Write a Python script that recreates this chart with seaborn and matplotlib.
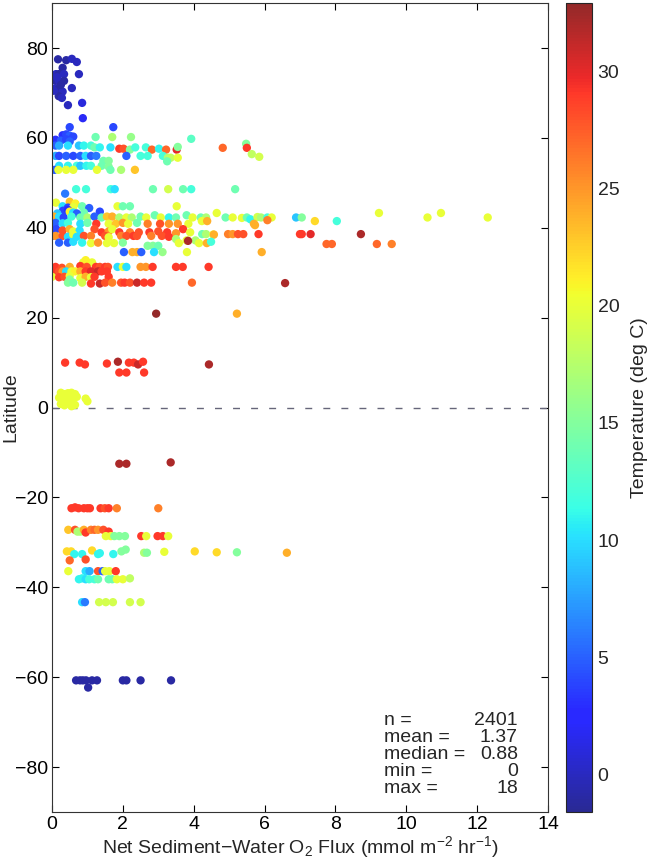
import numpy as np
import pandas as pd
import matplotlib
matplotlib.use("Agg")
import matplotlib.pyplot as plt
import seaborn as sns
from matplotlib.colors import Normalize, ListedColormap
from matplotlib.cm import ScalarMappable

# ---------------- data: (flux, latitude, temperature) ----------------
arctic = [(0.17,77.5,-1),(0.40,77.3,-1),(0.56,77.6,0),(0.70,76.9,0),(0.30,75.6,-1),(0.11,74.2,0),
          (0.19,74.2,-1),(0.34,74.2,0),(0.76,74.2,0),(0.10,72.7,-1),(0.20,72.7,0),(0.34,72.7,-1),
          (0.08,71.0,0),(0.19,70.9,-1),(0.30,70.3,0),(0.56,71.1,0),(0.19,69.3,-1),(0.28,68.9,0),
          (0.45,67.3,0),(0.85,67.8,1),(0.87,64.4,2),(0.14,73.5,0),(0.25,71.8,-1),(0.05,70.5,0)]

subarctic = [(0.50,62.4,4),(1.73,62.4,4),
             (0.30,60.6,3),(0.40,60.8,4),(0.50,60.5,5),(0.60,60.3,4),(1.23,60.2,14),(1.70,60.2,17),
             (2.23,60.2,16),(3.93,59.8,13),
             (0.10,59.6,3),(0.25,59.4,5),(0.40,59.7,4),(0.50,59.2,5),
             (0.10,58.3,5),(0.20,58.3,8),(0.45,58.3,10),(0.76,58.3,9),(0.90,58.3,11),(1.10,58.3,12),
             (1.20,57.9,14),(1.35,57.9,11),(1.65,57.9,10),(1.90,57.6,29),(2.02,57.6,28),(2.20,57.4,15),
             (2.35,57.9,12),(2.65,57.9,12),(2.82,57.4,27),(3.02,57.6,11),(3.22,57.4,27),(3.52,57.4,30),
             (3.55,58.0,15),(4.82,57.8,27),(5.48,58.7,15),(5.50,57.8,29),(5.64,56.4,18),(5.85,55.8,19),
             (0.10,56.0,8),(0.20,56.0,4),(0.40,56.0,5),(0.60,56.0,4),(0.80,56.0,5),(0.95,56.0,10),
             (1.10,56.0,5),(1.25,56.0,6),(2.10,56.0,5),(2.50,56.0,12),(2.70,56.0,12),(3.13,56.0,12),
             (3.27,55.6,17),(3.35,55.6,18),(3.55,55.6,20),(3.25,54.8,14),
             (1.45,54.9,14),(1.60,54.9,15),
             (0.20,53.8,10),(0.45,53.8,11),(0.70,53.8,12),(0.80,53.8,9),(0.97,53.8,11),(1.10,53.8,12),
             (1.40,53.8,14),(1.60,53.6,15),
             (0.07,52.9,5),(0.18,52.9,20),(0.40,52.9,20),(0.60,52.9,20),(1.27,52.9,20),(1.65,52.9,14),
             (1.95,52.9,17),(2.34,52.9,23),
             (0.68,48.6,12),(0.96,48.6,12),(1.66,48.6,12),(1.77,48.6,10),(2.85,48.6,14),(3.28,48.6,19),
             (3.70,48.6,14),(3.93,48.6,12),(5.17,48.6,14),(0.37,47.6,6)]

temperate = [(0.11,45.6,20),(0.50,45.8,23),(0.66,45.4,21),(0.30,44.8,10),(0.45,44.5,4),(0.60,44.6,20),
             (0.85,44.8,14),(1.05,44.4,5),(1.85,44.8,20),(2.00,44.8,14),(2.20,44.8,14),(3.52,44.8,20),
             (0.31,43.8,4),(0.45,44.0,3),(0.50,43.6,21),(0.60,43.4,10),(0.90,43.4,14),(1.35,43.6,4),
             (4.65,43.3,20),(9.23,43.3,20),(10.98,43.3,20),(0.15,43.2,9),(0.70,43.2,5),
             (0.05,42.5,24),(0.20,42.5,10),(0.33,42.3,4),(0.55,42.5,12),(0.80,42.3,14),(1.00,42.3,17),
             (1.20,42.5,5),(1.40,42.3,14),(1.55,42.5,23),(1.70,42.5,24),(1.90,42.3,17),(2.10,42.3,20),
             (2.25,42.3,17),(2.50,42.5,14),(2.66,42.3,20),(2.90,42.8,14),(3.07,42.3,20),(3.30,42.3,11),
             (3.50,42.3,14),(3.80,42.8,14),(3.97,42.3,20),(4.20,42.3,14),(4.35,42.3,17),(4.90,42.3,14),
             (5.10,42.3,20),(5.36,42.2,20),(5.50,42.3,14),(5.60,41.9,11),(5.80,42.4,19),(5.90,42.3,17),
             (6.08,42.3,12),(6.20,42.3,20),(6.89,42.3,9),(7.05,42.3,15),(10.6,42.3,20),(12.3,42.3,20),
             (0.10,41.1,5),(0.30,41.0,10),(0.45,41.1,12),(0.80,40.9,10),(1.00,41.1,14),(1.25,40.9,29),
             (1.60,40.9,20),(1.80,40.9,23),(2.00,41.1,25),(2.15,40.9,20),(2.40,41.1,14),(2.70,40.9,26),
             (3.05,40.9,28),(3.30,40.9,25),(3.55,40.9,25),(3.85,40.9,20),(4.23,41.5,20),(4.38,41.5,24),
             (5.73,40.6,24),(6.08,41.7,26),(7.42,41.5,22),(8.04,41.5,12),(5.70,40.9,24),
             (0.00,39.7,5),(0.12,39.7,4),(0.30,39.4,28),(0.50,39.7,24),(0.60,39.2,20),(0.78,39.4,10),
             (1.20,39.7,28),(1.40,39.0,29),(1.60,39.2,25),(1.70,39.7,20),(1.90,39.0,29),(2.20,39.0,26),
             (2.45,39.0,28),(2.75,39.0,29),(3.00,39.2,28),(3.25,39.0,29),(3.50,38.8,25),(3.70,39.7,29),
             (3.90,39.0,20),
             (0.00,38.2,5),(0.10,38.2,25),(0.30,38.2,28),(0.45,38.0,10),(0.60,38.5,20),(0.70,38.0,10),
             (0.90,38.2,28),(1.10,38.2,26),(1.50,38.2,28),(1.60,37.9,20),(1.95,38.2,26),(2.10,38.2,28),
             (2.30,38.2,29),(2.40,38.2,28),(2.80,38.2,26),(3.10,38.2,28),(3.30,38.0,29),(3.50,37.5,17),
             (3.80,37.2,20),(4.05,37.2,17),(4.24,38.6,14),(4.35,38.6,17),(4.55,38.5,20),(4.57,38.5,24),
             (4.97,38.6,26),(5.10,38.6,25),(5.25,38.6,28),(5.40,38.6,28),(5.83,38.6,29),(7.00,38.6,29),
             (7.05,38.6,29),(7.30,38.6,30),(8.72,38.6,32),
             (0.20,36.7,5),(0.45,36.7,5),(0.60,36.9,10),(0.85,36.7,11),(1.10,36.6,20),(1.30,36.7,25),
             (1.55,36.6,20),(1.75,36.6,20),(2.00,36.7,15),(3.84,37.1,32),(3.58,36.6,20),(4.15,36.6,20),
             (4.37,36.6,24),(4.49,36.9,12),(7.75,36.4,27),(7.90,36.4,27),(9.17,36.4,27),(9.59,36.4,26),
             (2.70,36.0,15),(2.85,36.0,15),(3.00,36.0,14),
             (2.03,34.6,5),(2.27,34.6,24),(2.40,34.6,24),(2.52,34.6,5),(2.88,34.6,10),(3.12,34.6,16),
             (3.81,34.6,20),(5.92,34.6,24)]

subtropical = [(0.88,32.3,20),(1.00,32.3,21),(1.13,32.3,20),(0.95,32.8,21),
               (0.10,31.3,29),(0.28,31.1,28),(0.50,31.3,24),(0.80,31.5,29),(0.98,31.3,28),(1.24,31.3,29),
               (1.35,31.3,28),(1.50,31.3,29),(1.58,31.3,28),(1.85,31.3,10),(2.00,31.3,20),(2.10,31.3,10),
               (2.50,31.3,25),(2.65,31.3,25),(2.84,31.3,29),(3.50,31.3,29),(3.69,31.3,29),(4.42,31.3,29),
               (0.05,30.3,29),(0.20,30.3,28),(0.30,30.3,25),(0.40,30.3,10),(0.55,30.3,20),(0.65,30.3,21),
               (0.80,30.3,24),(0.95,30.3,29),(1.10,30.3,30),(1.30,30.3,31),(1.40,30.3,29),(1.55,30.3,29),
               (0.00,29.1,20),(0.20,29.0,29),(0.35,29.1,28),(0.50,29.3,20),(0.50,28.5,15),(0.80,28.8,20),
               (0.95,29.1,24),(1.10,29.0,20),(1.20,29.1,29),(1.60,29.1,29),
               (0.45,27.8,15),(0.60,27.8,14),(0.85,27.8,19),(1.10,27.6,29),(1.35,27.6,31),(1.50,27.8,28),
               (1.70,27.8,26),(1.95,27.8,28),(2.05,27.8,29),(2.20,27.8,28),(2.40,27.8,31),(2.60,27.8,29),
               (2.80,27.8,29),(3.95,27.8,27),(6.58,27.7,32),
               (2.94,20.9,33),(5.22,20.9,24)]

tropical = [(0.37,10.0,29),(0.78,10.0,29),(0.93,9.6,29),(1.55,9.8,29),(1.86,10.2,32),(2.17,10.0,29),
            (2.31,10.0,29),(2.43,9.6,31),(2.57,10.2,29),(4.43,9.6,32),(1.90,7.8,29),(2.10,7.8,29),
            (2.60,7.8,29),
            (0.25,3.3,20),(0.35,3.0,20),(0.45,3.2,20),(0.55,3.3,20),(0.65,3.0,20),(0.20,2.2,20),
            (0.30,1.8,20),(0.40,2.5,20),(0.50,1.5,20),(0.60,2.0,20),(0.70,2.4,20),(0.25,0.8,20),
            (0.35,0.5,20),(0.45,1.0,20),(0.55,0.3,20),(0.65,0.6,20),(0.95,2.0,20),(1.00,1.4,20)]

southern = [(1.90,-12.5,32),(2.10,-12.5,32),(3.35,-12.2,32),
            (0.55,-22.4,29),(0.65,-22.2,29),(0.75,-22.4,29),(0.90,-22.4,29),(1.00,-22.4,29),
            (1.07,-22.4,29),(1.37,-22.4,29),(1.49,-22.4,28),(1.60,-22.4,29),(1.83,-22.4,26),(3.00,-22.4,26),
            (0.46,-27.2,23),(0.65,-27.2,28),(0.72,-27.6,17),(0.80,-27.6,17),(0.90,-27.2,24),(0.95,-27.8,29),
            (1.10,-27.2,26),(1.20,-27.2,27),(1.30,-27.2,25),(1.45,-27.2,28),(1.60,-27.6,29),
            (1.52,-28.6,20),(1.66,-28.6,20),(1.76,-28.6,15),(1.90,-28.6,15),(2.06,-28.6,15),(2.52,-28.6,29),
            (2.66,-28.6,20),(2.98,-28.6,29),(3.13,-28.6,29),(3.28,-28.6,20),
            (0.42,-32.0,22),(0.54,-32.0,22),(0.63,-32.6,11),(0.85,-32.6,11),(1.13,-31.8,22),(1.30,-32.6,11),
            (1.35,-32.4,11),(1.73,-32.6,11),(1.96,-32.0,15),(2.08,-31.6,15),(2.60,-32.3,17),(2.68,-32.3,15),
            (3.17,-32.1,20),(4.03,-32.0,22),(4.65,-32.2,22),(5.22,-32.2,15),(6.63,-32.3,24),
            (0.50,-34.0,27),(0.95,-33.8,28),
            (0.46,-36.4,20),(0.95,-36.4,10),(1.06,-36.4,8),(1.30,-36.4,28),(1.43,-36.4,5),(1.50,-36.4,20),
            (1.62,-36.4,20),(1.80,-36.4,29),
            (0.76,-38.2,11),(0.85,-38.0,11),(0.95,-38.2,10),(1.05,-38.2,12),(1.20,-38.2,12),(1.30,-38.2,14),
            (1.60,-38.2,14),(1.70,-38.2,14),(1.83,-38.2,20),(2.00,-38.2,20),(2.20,-38.0,18),
            (0.85,-43.3,10),(0.93,-43.3,6),(1.33,-43.3,19),(1.52,-43.3,19),(1.72,-43.3,19),(2.20,-43.3,19),
            (2.50,-43.3,19)]

antarctic = [(0.68,-60.7,-1),(0.79,-60.7,-1),(0.87,-60.7,-1),(0.96,-60.7,-1),(1.13,-60.7,-1),
             (1.27,-60.7,-1),(2.00,-60.7,-1),(2.10,-60.7,-1),(2.50,-60.7,-1),(3.36,-60.7,-1),(1.02,-62.3,-1)]

stat_labels = ["n =", "mean =", "median =", "min =", "max ="]
stat_values = ["2401", "1.37", "0.88", "0", "18"]

x_ticks = [0, 2, 4, 6, 8, 10, 12, 14]
y_ticks = [-80, -60, -40, -20, 0, 20, 40, 60, 80]
cbar_ticks = [0, 5, 10, 15, 20, 25, 30]
temp_range = (-1.6, 32.9)

# ---------------- style ----------------
sns.set_style("white")
plt.rcParams["font.family"] = ["Liberation Sans", "DejaVu Sans"]
plt.rcParams["mathtext.fontset"] = "custom"
plt.rcParams["mathtext.rm"] = "Liberation Sans"
plt.rcParams["mathtext.it"] = "Liberation Sans:italic"
plt.rcParams["mathtext.default"] = "regular"
FS = 14

df = pd.DataFrame(arctic + subarctic + temperate + subtropical + tropical + southern + antarctic,
                  columns=["flux", "lat", "temp"])

# slightly muted jet, like the reference rendering
base = plt.get_cmap("jet")(np.linspace(0, 1, 256))
base[:, :3] = base[:, :3] * 0.84 + 0.16
cmap = ListedColormap(base, name="mjet")
norm = Normalize(*temp_range)

fig = plt.figure(figsize=(6.5, 8.67), dpi=100)
ax = fig.add_axes([0.080, 0.0634, 0.763, 0.933])
cax = fig.add_axes([0.871, 0.0634, 0.040, 0.933])

ax.axhline(0, color="#66667a", lw=1.0, dashes=(5, 8), zorder=1)
sns.scatterplot(data=df, x="flux", y="lat", hue="temp", palette=cmap, hue_norm=norm,
                s=36, linewidth=0, legend=False, ax=ax, zorder=2)

ax.set_xlim(0, 14)
ax.set_ylim(-90, 90)
ax.set_xticks(x_ticks)
ax.set_yticks(y_ticks)
ax.tick_params(direction="in", length=5, width=0.8, labelsize=FS, top=True, right=True,
               bottom=True, left=True, colors="black", pad=3)
for sp in ax.spines.values():
    sp.set_color("#333333")
    sp.set_linewidth(0.8)
ax.set_xlabel("Net Sediment\u2212Water O$_2$ Flux (mmol m$^{-2}$ hr$^{-1}$)", fontsize=FS, labelpad=1)
ax.set_ylabel("Latitude", fontsize=FS)
ax.yaxis.set_label_coords(-0.066, 0.5)

y0 = -69.6
for i, (lab, val) in enumerate(zip(stat_labels, stat_values)):
    yy = y0 - i * 3.8
    ax.text(9.37, yy, lab, ha="left", va="center", fontsize=FS)
    ax.text(13.15, yy, val, ha="right", va="center", fontsize=FS)

cb = fig.colorbar(ScalarMappable(norm=norm, cmap=cmap), cax=cax)
cb.set_ticks(cbar_ticks)
cb.outline.set_linewidth(0.8)
cax.tick_params(direction="in", length=4, width=0.8, labelsize=FS, left=True, right=True, pad=4)
cb.set_label("Temperature (deg C)", fontsize=FS, labelpad=8)

fig.savefig("out.png", dpi=100)
